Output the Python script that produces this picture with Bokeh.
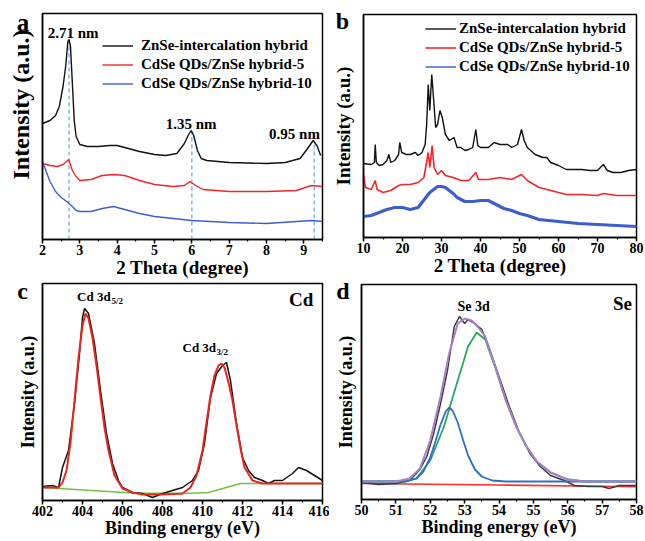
from bokeh.plotting import figure
from bokeh.models import Range1d, SingleIntervalTicker, FixedTicker, Label, Legend, LegendItem, GridBox
from bokeh.embed import file_html
from bokeh.resources import INLINE

FONT = "Liberation Serif"

# ---------------- data: panel a (XRD low angle) ----------------
legend_labels = ["ZnSe-intercalation hybrid", "CdSe QDs/ZnSe hybrid-5", "CdSe QDs/ZnSe hybrid-10"]

a_black_x = [2.0, 2.2, 2.35, 2.45, 2.55, 2.62, 2.68, 2.71, 2.75, 2.8, 2.85, 2.9, 3.0, 3.2, 3.5, 3.8, 4.0, 4.3, 4.6, 5.0,
             5.3, 5.6, 5.8, 5.9, 5.98, 6.05, 6.15, 6.25, 6.4, 7.0, 8.0, 8.5, 8.9, 9.1, 9.25, 9.35, 9.45]
a_black_y = [116, 119, 124, 133, 153, 173, 198, 200, 193, 156, 119, 103, 95, 93, 93, 94, 94, 91, 88, 85,
             84, 86, 96, 104, 109, 104, 89, 81, 79, 77, 76, 77, 81, 91, 99, 94, 84]
a_red_x = [2.0, 2.2, 2.4, 2.55, 2.65, 2.7, 2.8, 2.9, 3.0, 3.3, 3.6, 3.9, 4.2, 4.6, 5.0, 5.5, 5.8, 5.95, 6.1, 6.3,
           7.0, 8.0, 8.8, 9.2, 9.5]
a_red_y = [76, 74, 73, 75, 78, 80, 69, 63, 59, 60, 64, 65, 64, 59, 55, 53, 54, 58, 54, 50,
           48, 48, 49, 54, 53]
a_blue_x = [2.0, 2.1, 2.2, 2.35, 2.5, 2.65, 2.8, 2.9, 3.0, 3.3, 3.6, 3.9, 4.2, 4.6, 5.0, 5.5, 6.0, 6.5, 7.0, 8.0,
            8.8, 9.2, 9.5]
a_blue_y = [78, 68, 58, 48, 42, 38, 33, 29, 28, 28, 31, 33, 30, 26, 23, 21, 19, 18, 17, 16,
            18, 19, 18]
a_dash_x = [2.71, 6.0, 9.28]
a_dash_top = [200, 109, 99]
a_peak_text = ["2.71 nm", "1.35 nm", "0.95 nm"]
a_peak_text_x = [2.82, 5.98, 8.75]
a_peak_text_y = [207, 116, 106]

# ---------------- data: panel b (XRD wide angle) ----------------
b_black_x = [10, 12, 12.8, 13.0, 13.3, 14, 15, 16, 16.5, 17, 18, 19, 19.3, 19.8, 21, 22, 23.3, 24, 25, 25.8,
             26.2, 26.6, 27.0, 27.5, 28.0, 28.5, 29.0, 29.6, 30.2, 31, 32, 33.2, 34, 35, 36, 37, 38, 38.8, 39.3, 40,
             42, 43.5, 45, 47, 48, 49.5, 50.5, 51.2, 52, 54, 56, 57, 58, 60, 62, 64, 66, 68, 70, 71.5,
             72.5, 74, 76, 78, 80]
b_black_y = [74, 73, 75, 93, 75, 72, 73, 77, 83, 75, 77, 83, 95, 85, 83, 83, 85, 82, 85, 93,
             113, 153, 127, 163, 137, 110, 113, 127, 120, 103, 97, 100, 90, 90, 87, 88, 90, 108, 92, 90,
             90, 95, 93, 93, 90, 93, 108, 97, 90, 83, 80, 80, 75, 72, 68, 68, 68, 67, 67, 73,
             67, 65, 65, 67, 68]
b_red_x = [10, 10.5, 12, 13.0, 13.5, 15, 17, 19, 20, 22, 24, 25.5, 26.6, 27.0, 27.6, 28.1, 29, 30, 31, 33,
           35, 37, 38.8, 39.5, 42, 45, 48, 50.5, 52, 55, 58, 62, 66, 70, 71.5, 75, 80]
b_red_y = [63, 50, 48, 57, 48, 45, 47, 52, 53, 53, 55, 60, 85, 70, 92, 70, 63, 67, 62, 60,
           57, 57, 65, 58, 58, 60, 58, 63, 57, 50, 47, 43, 43, 42, 44, 42, 42]
b_blue_x = [10, 12, 14, 16, 18, 20, 22, 24, 25, 26, 27, 28, 29, 30, 31, 32, 33, 34, 36, 38,
            40, 42, 44, 46, 48, 50, 52, 55, 60, 65, 70, 75, 80]
b_blue_y = [21, 22, 25, 28, 30, 30, 28, 30, 35, 40, 45, 48, 51, 51, 50, 47, 44, 40, 36, 36,
            37, 37, 33, 29, 27, 24, 22, 18, 16, 14, 13, 12, 11]

# ---------------- data: panel c (Cd 3d XPS) ----------------
c_data_x = [402.0, 402.5, 402.8, 403.0, 403.3, 403.6, 403.85, 404.0, 404.1, 404.3, 404.6, 404.9, 405.2, 405.5,
            405.8, 406.0, 406.5, 407.0, 407.5, 408.0, 408.5, 409.0, 409.5, 409.8, 410.1, 410.4, 410.7, 411.0,
            411.2, 411.4, 411.7, 412.0, 412.3, 412.6, 413.0, 413.3, 413.6, 414.0, 414.5, 414.8, 415.2, 415.6, 416.0]
c_data_y = [14, 15, 13, 33, 50, 97, 147, 183, 192, 187, 157, 110, 67, 37,
            20, 13, 8, 7, 3, 7, 10, 13, 20, 30, 57, 103, 127, 135,
            138, 120, 77, 43, 30, 23, 20, 17, 20, 20, 27, 33, 30, 25, 20]
c_fit_x = [402, 402.8, 403.0, 403.2, 403.4, 403.6, 403.8, 404.0, 404.15, 404.3, 404.5, 404.7, 404.9, 405.1,
           405.3, 405.6, 406.0, 406.5, 407, 408, 409, 409.4, 409.7, 410.0, 410.2, 410.4, 410.6, 410.8, 410.95,
           411.1, 411.3, 411.5, 411.7, 411.9, 412.1, 412.5, 413, 414, 416]
c_fit_y = [13, 13, 18, 30, 58, 100, 143, 175, 187, 182, 163, 135, 103, 73,
           50, 25, 12, 8, 6, 6, 7, 13, 25, 50, 78, 105, 125, 135, 137,
           133, 118, 100, 75, 52, 33, 20, 17, 17, 17]
c_base_x = [402, 406.5, 409.0, 410.3, 411.9, 413, 416]
c_base_y = [13, 7.5, 7, 8, 17, 17, 17]

# ---------------- data: panel d (Se 3d XPS) ----------------
d_data_x = [50, 50.5, 51, 51.4, 51.7, 51.9, 52.1, 52.3, 52.5, 52.7, 52.85, 53.0, 53.1, 53.3, 53.5, 53.7, 54.0,
            54.3, 54.6, 54.9, 55.2, 55.5, 55.9, 56.2, 56.6, 57.0, 57.2, 57.5, 58.0]
d_data_y = [17, 15, 16, 19, 30, 43, 66, 96, 129, 173, 183, 176, 180, 176, 170, 153, 123,
            93, 66, 46, 33, 24, 19, 14, 13, 13, 11, 14, 14]
d_env_x = [50, 51, 51.4, 51.7, 52.0, 52.3, 52.55, 52.8, 53.0, 53.2, 53.4, 53.6, 53.9, 54.2, 54.5, 54.8, 55.1,
           55.5, 56.0, 56.5, 58]
d_env_y = [18, 18, 21, 31, 59, 103, 146, 176, 181, 179, 172, 163, 132, 99, 73, 53, 38,
           27, 20, 18, 18]
d_green_x = [50, 51.2, 51.6, 52.0, 52.4, 52.8, 53.1, 53.35, 53.6, 53.9, 54.2, 54.5, 54.8, 55.1, 55.5, 56.0, 56.5, 58]
d_green_y = [18, 18, 21, 39, 73, 119, 153, 167, 160, 131, 99, 73, 53, 38, 27, 20, 18, 18]
d_blue_x = [50, 51.3, 51.6, 51.8, 52.0, 52.15, 52.3, 52.45, 52.55, 52.65, 52.8, 52.95, 53.1, 53.3, 53.5, 53.8,
            54.2, 58]
d_blue_y = [18, 18, 21, 28, 42, 58, 75, 88, 92, 89, 77, 60, 44, 30, 23, 19, 18, 18]
d_base_x = [50, 54, 58]
d_base_y = [16, 14.5, 12.7]

# panel letters and the panel-a y title, drawn on a transparent page-sized overlay (page pixels)
panel_letters = ["a", "b", "c", "d"]


def make_fig(width, height, xr, yr, bl, br, bt, bb, interval, xlabel, xlabel_size,
             ylabel_standoff=None, ylabel_size="18px"):
    p = figure(width=width, height=height, x_range=Range1d(*xr), y_range=Range1d(*yr),
               output_backend="svg", toolbar_location=None,
               min_border_left=bl, min_border_right=br, min_border_top=bt, min_border_bottom=bb)
    p.frame_align = False
    p.xgrid.visible = False
    p.ygrid.visible = False
    p.outline_line_color = "black"
    p.outline_line_width = 1.5
    p.outline_line_alpha = 1.0
    p.background_fill_color = "white"
    p.border_fill_color = "white"
    xa = p.xaxis[0]
    xa.ticker = SingleIntervalTicker(interval=interval, num_minor_ticks=2)
    xa.axis_label = xlabel
    xa.axis_label_text_font = FONT
    xa.axis_label_text_font_style = "bold"
    xa.axis_label_text_font_size = xlabel_size
    xa.axis_label_text_color = "black"
    xa.axis_label_standoff = -1
    xa.major_label_text_font = FONT
    xa.major_label_text_font_style = "bold"
    xa.major_label_text_font_size = "14px"
    xa.major_label_text_color = "black"
    xa.major_label_standoff = 1
    xa.axis_line_width = 1.5
    xa.major_tick_line_width = 1.5
    xa.minor_tick_line_width = 1.2
    xa.major_tick_out = 4
    xa.major_tick_in = 0
    xa.minor_tick_out = 2
    xa.minor_tick_in = 0
    ya = p.yaxis[0]
    ya.ticker = FixedTicker(ticks=[])
    ya.major_tick_out = 0
    ya.major_tick_in = 0
    ya.minor_tick_out = 0
    ya.minor_tick_in = 0
    ya.axis_line_width = 1.5
    if ylabel_standoff is not None:
        ya.axis_label = "Intensity (a.u.)"
        ya.axis_label_text_font = FONT
        ya.axis_label_text_font_style = "bold"
        ya.axis_label_text_font_size = ylabel_size
        ya.axis_label_text_color = "black"
        ya.axis_label_standoff = ylabel_standoff
    return p


def add_label(p, text, x, y, size, align="center", baseline="middle", angle=0):
    p.add_layout(Label(x=x, y=y, text=text, text_font=FONT, angle=angle, angle_units="deg",
                       text_font_style="bold", text_font_size=size, text_align=align,
                       text_baseline=baseline, text_color="black"))


def add_legend(p, renderers, x, y, standoff):
    items = [LegendItem(label=lab, renderers=[r]) for lab, r in zip(legend_labels, renderers)]
    lg = Legend(items=items, location=(x, y), label_text_font=FONT, label_text_font_style="bold",
                label_text_font_size="15px", label_text_color="black", glyph_width=31, glyph_height=17,
                label_height=17, label_standoff=standoff, spacing=2, padding=0, margin=0,
                border_line_alpha=0, background_fill_alpha=0)
    p.add_layout(lg, "center")


BLACK = "#111111"
RED = "#f2262a"
BLUE = "#3d5fcc"

# ---------------- panel a ----------------
pa = make_fig(329, 280, (2, 9.5), (0, 226), 42, 7, 13, 41, 1, "2 Theta (degree)", "19px")
pa.segment(x0=a_dash_x, y0=[0] * len(a_dash_x), x1=a_dash_x, y1=a_dash_top,
           line_color="#8db8ea", line_width=1.6, line_dash="4 3")
ra1 = pa.line(a_black_x, a_black_y, line_color=BLACK, line_width=1.4)
ra2 = pa.line(a_red_x, a_red_y, line_color=RED, line_width=1.4)
ra3 = pa.line(a_blue_x, a_blue_y, line_color=BLUE, line_width=1.4)
add_legend(pa, [ra1, ra2, ra3], 60, 147, 8)
for t, x, y in zip(a_peak_text, a_peak_text_x, a_peak_text_y):
    add_label(pa, t, x, y, "15px")

# ---------------- panel b ----------------
pb = make_fig(316, 280, (10, 80), (0, 223), 32, 9, 14, 43, 10, "2 Theta (degree)", "19px", 10, "19px")
pb.line(b_blue_x, b_blue_y, line_color=BLUE, line_width=3.2)
rb3 = pb.line(b_blue_x, b_blue_y, line_color=BLUE, line_width=1.4)
rb2 = pb.line(b_red_x, b_red_y, line_color=RED, line_width=1.6)
rb1 = pb.line(b_black_x, b_black_y, line_color=BLACK, line_width=1.4)
add_legend(pb, [rb1, rb2, rb3], 62, 162, 3)

# ---------------- panel c ----------------
pc = make_fig(329, 261, (402, 416), (0, 217), 42, 7, 3, 41, 2, "Binding energy (eV)", "18px", 5, "18px")
pc.line(c_base_x, c_base_y, line_color="#74c043", line_width=1.6)
pc.line(c_data_x, c_data_y, line_color=BLACK, line_width=1.5)
pc.line(c_fit_x, c_fit_y, line_color="#e8261e", line_width=2)
add_label(pc, "Cd 3d", 403.73, 204, "13px", align="left")
add_label(pc, "5/2", 405.45, 200, "9px", align="left")
add_label(pc, "Cd 3d", 409.0, 153, "13px", align="left")
add_label(pc, "3/2", 410.7, 149, "9px", align="left")
add_label(pc, "Cd", 414.93, 201, "19px")

# ---------------- panel d ----------------
pd_ = make_fig(316, 261, (50, 58), (0, 215), 32, 9, 4, 42, 1, "Binding energy (eV)", "18px", 6, "18px")
pd_.line(d_base_x, d_base_y, line_color="#ff2d2d", line_width=1.6)
pd_.line(d_data_x, d_data_y, line_color="#3a3a3a", line_width=1.5)
pd_.line(d_green_x, d_green_y, line_color="#28a85c", line_width=1.8)
pd_.line(d_blue_x, d_blue_y, line_color="#2a70c8", line_width=1.8)
pd_.line(d_env_x, d_env_y, line_color="#a97fc6", line_width=2)
add_label(pd_, "Se 3d", 53.26, 193, "14px")
add_label(pd_, "Se", 57.59, 196, "19px")

# ---------------- transparent overlay in page pixels ----------------
ov = figure(width=645, height=541, x_range=Range1d(0, 645), y_range=Range1d(541, 0),
            output_backend="svg", toolbar_location=None, min_border=0,
            x_axis_location=None, y_axis_location=None)
ov.frame_align = False
ov.grid.visible = False
ov.outline_line_color = None
ov.background_fill_color = None
ov.border_fill_color = None
for letter, lx, ly, fs in zip(panel_letters, [22.5, 342, 22, 342.5], [21.5, 20, 290, 290],
                              ["25px", "24px", "24px", "24px"]):
    add_label(ov, letter, lx, ly, fs)
add_label(ov, "Intensity (a.u.)", 20, 104, "24px", angle=90)

layout = GridBox(children=[(pa, 0, 0), (pb, 0, 1), (pc, 1, 0), (pd_, 1, 1), (ov, 0, 0, 2, 2)])
open("out.html", "w").write(file_html(layout, INLINE))
